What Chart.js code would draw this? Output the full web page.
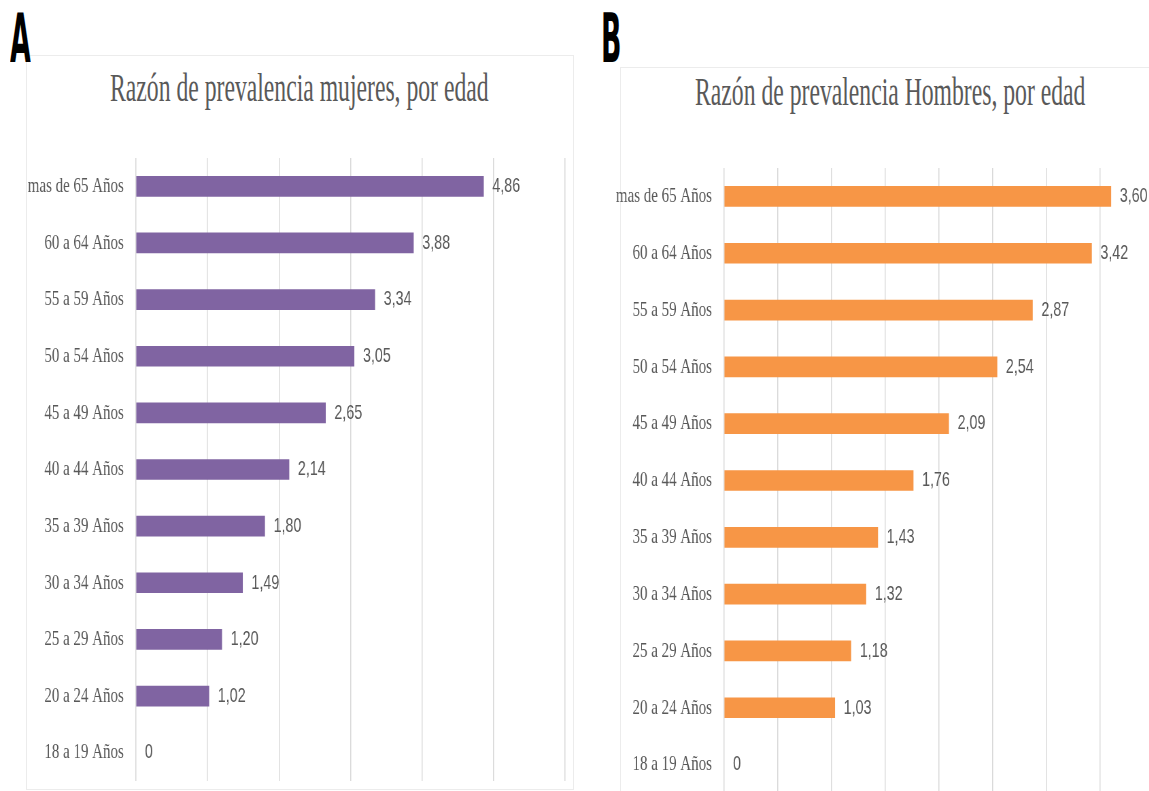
<!DOCTYPE html>
<html>
<head>
<meta charset="utf-8">
<script src="https://cdn.jsdelivr.net/npm/chart.js@4.4.1/dist/chart.umd.min.js"></script>
<style>
  html, body { margin: 0; padding: 0; background: #fff; }
  body { position: relative; width: 1149px; height: 791px; overflow: hidden; }
  .letter { position: absolute; top: 6px; font: bold 67px "DejaVu Sans"; line-height: 1; color: #000;
            transform: scaleX(0.40); transform-origin: 0 0; }
  .title { position: absolute; font: 39px "Liberation Serif"; line-height: 1; color: #595959; white-space: nowrap;
           transform: scaleX(0.607); transform-origin: 0 0; }
  .panel { position: absolute; border: 1px solid #ececec; }
  .wrap { position: absolute; top: 0; transform: scaleX(0.68); transform-origin: 0 0; }
  canvas { display: block; }
</style>
</head>
<body>
<div class="panel" style="left:26px;top:55px;width:546px;height:733px"></div>
<div class="panel" style="left:620px;top:67px;width:600px;height:800px"></div>
<div class="letter" style="left:10px">A</div>
<div class="letter" style="left:601px">B</div>
<div class="title" style="left:110px;top:68px">Razón de prevalencia mujeres, por edad</div>
<div class="title" style="left:695px;top:72px">Razón de prevalencia Hombres, por edad</div>
<div class="wrap" style="left:0px"><canvas id="chartA" width="840" height="791"></canvas></div>
<div class="wrap" style="left:580px"><canvas id="chartB" width="860" height="800"></canvas></div>
<script>
const ageGroups = ['mas de 65 Años', '60 a 64 Años', '55 a 59 Años', '50 a 54 Años', '45 a 49 Años',
  '40 a 44 Años', '35 a 39 Años', '30 a 34 Años', '25 a 29 Años', '20 a 24 Años', '18 a 19 Años']
const mujeres = [4.86, 3.88, 3.34, 3.05, 2.65, 2.14, 1.80, 1.49, 1.20, 1.02, 0]
const hombres = [3.60, 3.42, 2.87, 2.54, 2.09, 1.76, 1.43, 1.32, 1.18, 1.03, 0]

// value labels at the end of each bar, spanish decimal comma
const barLabels = {
  id: 'barLabels',
  afterDatasetsDraw(chart) {
    const {ctx} = chart
    const values = chart.data.datasets[0].data
    ctx.save()
    ctx.font = '21px "Liberation Sans"'
    ctx.fillStyle = '#595959'
    ctx.textAlign = 'left'
    ctx.textBaseline = 'middle'
    chart.getDatasetMeta(0).data.forEach((bar, i) => {
      const v = values[i]
      const txt = v === 0 ? '0' : v.toFixed(2).replace('.', ',')
      ctx.fillText(txt, bar.x + 13, bar.y)
    })
    ctx.restore()
  }
}

function makeChart(id, data, color, max, step, axisWidth, pad) {
  return new Chart(document.getElementById(id), {
    type: 'bar',
    data: {
      labels: ageGroups,
      datasets: [{
        data: data,
        backgroundColor: ctx => ctx.raw === 0 ? 'rgba(0,0,0,0)' : color,
        barThickness: 20
      }]
    },
    options: {
      indexAxis: 'y',
      responsive: false,
      devicePixelRatio: 1,
      animation: false,
      layout: { padding: pad },
      plugins: { legend: { display: false }, tooltip: { enabled: false } },
      scales: {
        x: {
          min: 0, max: max,
          ticks: { display: false, stepSize: step },
          grid: { color: '#d9d9d9', lineWidth: 1.5, drawTicks: false },
          border: { display: false },
          afterFit: s => { s.height = 0 }
        },
        y: {
          grid: { display: false, drawTicks: false },
          border: { display: false },
          ticks: { color: '#595959', padding: 18, font: { family: 'Liberation Serif', size: 22 } },
          afterFit: s => {
            s.width = axisWidth
            s.paddingTop = 0
            s.paddingBottom = 0
          }
        }
      }
    },
    plugins: [barLabels]
  })
}

makeChart('chartA', mujeres, '#8064a2', 6, 1, 200, { left: 0, right: 9, top: 158, bottom: 10 })
makeChart('chartB', hombres, '#f79646', 4, 0.5, 212, { left: 0, right: 16, top: 168, bottom: 7 })
</script>
</body>
</html>
